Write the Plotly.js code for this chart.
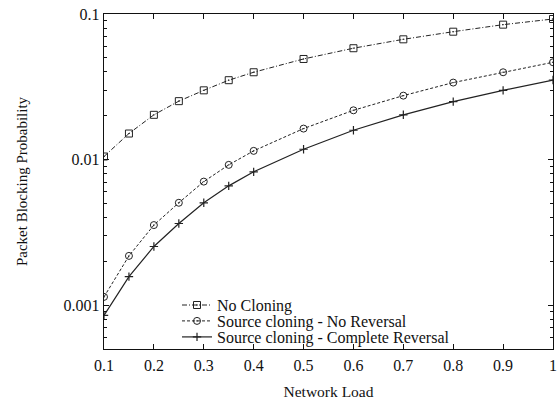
<!DOCTYPE html>
<html>
<head>
<meta charset="utf-8">
<script src="https://cdn.plot.ly/plotly-3.0.1.min.js"></script>
<style>html,body{margin:0;padding:0;background:#fff;}#chart{width:558px;height:400px;}</style>
</head>
<body>
<div id="chart"></div>
<script>
const load = [0.1, 0.15, 0.2, 0.25, 0.3, 0.35, 0.4, 0.5, 0.6, 0.7, 0.8, 0.9, 1.0];
const noCloning = [0.0105, 0.0151, 0.0203, 0.0252, 0.0299, 0.0351, 0.0398, 0.0491, 0.0582, 0.0670, 0.0756, 0.0845, 0.0924];
const srcNoReversal = [0.00114, 0.00218, 0.00355, 0.00505, 0.00706, 0.0092, 0.01148, 0.01633, 0.0218, 0.0275, 0.0338, 0.0398, 0.0466];
const srcCompleteReversal = [0.00085, 0.00157, 0.00253, 0.00364, 0.00505, 0.0066, 0.00824, 0.01178, 0.0159, 0.0203, 0.0250, 0.0299, 0.0352];
const seriesNames = ["No Cloning", "Source cloning - No Reversal", "Source cloning - Complete Reversal"];
const xTickVals = [0.1, 0.2, 0.3, 0.4, 0.5, 0.6, 0.7, 0.8, 0.9, 1.0];
const xTickText = ["0.1", "0.2", "0.3", "0.4", "0.5", "0.6", "0.7", "0.8", "0.9", "1"];
const yTickVals = [0.001, 0.01, 0.1];
const yTickText = ["0.001", "0.01", "0.1"];

const font = "Liberation Serif, Times New Roman, serif";
const col = "#222";

const traces = [
  {x: load, y: noCloning, name: seriesNames[0], mode: "lines+markers", legend: "legend",
   line: {color: col, width: 1, dash: "5px,2px,1px,2px"},
   marker: {symbol: "square-open-dot", size: 7, color: col, line: {width: 1, color: col}}},
  {x: load, y: srcNoReversal, name: seriesNames[1], mode: "lines+markers", legend: "legend2",
   line: {color: col, width: 1, dash: "3px,2px"},
   marker: {symbol: "circle-open-dot", size: 7, color: col, line: {width: 1, color: col}}},
  {x: load, y: srcCompleteReversal, name: seriesNames[2], mode: "lines+markers", legend: "legend3",
   line: {color: col, width: 1.2},
   marker: {symbol: "cross-thin-open", size: 6, color: col, line: {width: 1.2, color: col}}}
];

function leg(y) {
  return {x: 0.1626, y: y, xanchor: "left", yanchor: "middle",
          bgcolor: "rgba(0,0,0,0)", font: {family: font, size: 16, color: "#111"},
          itemwidth: 30};
}

const layout = {
  width: 558, height: 400,
  margin: {l: 104, r: 5, t: 14, b: 51},
  paper_bgcolor: "#fff", plot_bgcolor: "#fff",
  font: {family: font, size: 16, color: "#111"},
  showlegend: true,
  legend: leg(0.131),
  legend2: leg(0.0836),
  legend3: leg(0.0358),
  xaxis: {
    range: [0.1, 1.0], tickmode: "array", tickvals: xTickVals, ticktext: xTickText,
    tickfont: {family: font, size: 16},
    ticks: "inside", ticklen: 5, tickwidth: 1, tickcolor: "#111", ticklabelstandoff: 2,
    showline: true, linecolor: "#111", linewidth: 1.2, mirror: "ticks",
    showgrid: false, zeroline: false,
    title: {text: "Network Load", font: {family: font, size: 15.5}, standoff: 14}
  },
  yaxis: {
    type: "log", range: [Math.log10(0.0005), -1],
    tickmode: "array", tickvals: yTickVals, ticktext: yTickText,
    tickfont: {family: font, size: 16},
    ticks: "inside", ticklen: 5, tickwidth: 1, tickcolor: "#111",
    minor: {ticks: "inside", ticklen: 3, tickwidth: 1, tickcolor: "#111", dtick: "D1", showgrid: false},
    showline: true, linecolor: "#111", linewidth: 1.2, mirror: "ticks",
    showgrid: false, zeroline: false,
    title: {text: "Packet Blocking Probability", font: {family: font, size: 15}, standoff: 32}
  }
};

Plotly.newPlot("chart", traces, layout, {displayModeBar: false, staticPlot: true});
</script>
</body>
</html>
